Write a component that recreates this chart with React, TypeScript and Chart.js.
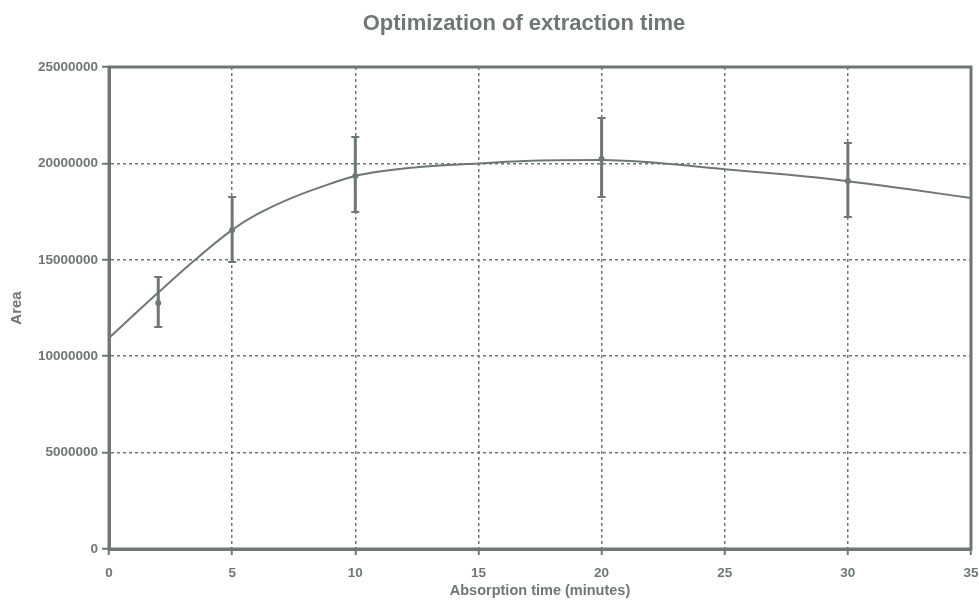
import React, { useEffect, useRef } from "react";
import { Chart, registerables } from "chart.js";

Chart.register(...registerables);

const chartTitle = "Optimization of extraction time";
const xTitle = "Absorption time (minutes)";
const yTitle = "Area";

// measured points (minutes)
const times = [2, 5, 10, 20, 30];
const means = [12760000, 16550000, 19350000, 20230000, 19090000];
const upper = [14110000, 18260000, 21370000, 22350000, 21060000];
const lower = [11510000, 14890000, 17480000, 18260000, 17220000];

// fitted trend curve
const curveX = [0, 2, 3.5, 5, 6, 7.5, 9, 10, 12.5, 15, 17.5, 20, 22.5, 25, 27.5, 30, 32.5, 35];
const curveY = [
  10950000, 13300000, 15000000, 16550000, 17350000, 18250000, 18950000, 19350000,
  19800000, 20000000, 20150000, 20170000, 20000000, 19700000, 19420000, 19080000,
  18660000, 18200000,
];

const xTicks = [0, 5, 10, 15, 20, 25, 30, 35];
const yTicks = [0, 5000000, 10000000, 15000000, 20000000, 25000000];

const GRAY = "#6f7776";
const FONT = "'Liberation Sans', Arial, sans-serif";

export default function App() {
  const ref = useRef<HTMLCanvasElement | null>(null);

  useEffect(() => {
    if (!ref.current) return;

    const errorBars = {
      id: "errorBars",
      afterDatasetsDraw(chart: any) {
        const { ctx, scales } = chart;
        const xs = scales.x;
        const ys = scales.y;
        ctx.save();
        ctx.setLineDash([]);
        ctx.strokeStyle = GRAY;
        ctx.lineCap = "butt";
        for (let i = 0; i < times.length; i++) {
          const px = xs.getPixelForValue(times[i]);
          const pt = ys.getPixelForValue(upper[i]);
          const pb = ys.getPixelForValue(lower[i]);
          ctx.lineWidth = 3;
          ctx.beginPath();
          ctx.moveTo(px, pt);
          ctx.lineTo(px, pb);
          ctx.stroke();
          ctx.lineWidth = 2;
          ctx.beginPath();
          ctx.moveTo(px - 4, pt);
          ctx.lineTo(px + 4, pt);
          ctx.moveTo(px - 4, pb);
          ctx.lineTo(px + 4, pb);
          ctx.stroke();
        }
        ctx.restore();
      },
    };

    const frame = {
      id: "frame",
      afterDraw(chart: any) {
        const { ctx, chartArea } = chart;
        ctx.save();
        ctx.setLineDash([]);
        ctx.strokeStyle = GRAY;
        ctx.lineWidth = 3;
        ctx.strokeRect(
          chartArea.left,
          chartArea.top,
          chartArea.right - chartArea.left,
          chartArea.bottom - chartArea.top
        );
        ctx.restore();
      },
    };

    const customTitle = {
      id: "customTitle",
      afterDraw(chart: any) {
        const { ctx } = chart;
        ctx.save();
        ctx.fillStyle = GRAY;
        ctx.font = `bold 22px ${FONT}`;
        ctx.textAlign = "center";
        ctx.textBaseline = "alphabetic";
        ctx.fillText(chartTitle, 524, 30);
        ctx.restore();
      },
    };

    const chart = new Chart(ref.current, {
      type: "scatter",
      data: {
        datasets: [
          {
            label: "fit",
            data: curveX.map((x, i) => ({ x, y: curveY[i] })),
            showLine: true,
            borderColor: GRAY,
            borderWidth: 2,
            pointRadius: 0,
            cubicInterpolationMode: "monotone",
            fill: false,
          } as any,
          {
            label: "mean",
            data: times.map((x, i) => ({ x, y: means[i] })),
            showLine: false,
            pointRadius: 3,
            pointBackgroundColor: GRAY,
            pointBorderColor: GRAY,
            pointBorderWidth: 0,
          },
        ],
      },
      options: {
        animation: false,
        responsive: true,
        maintainAspectRatio: false,
        layout: { padding: { top: 67, right: 8, left: 0, bottom: 0 } },
        plugins: {
          legend: { display: false },
          title: { display: false },
          tooltip: { enabled: false },
        },
        scales: {
          x: {
            type: "linear",
            min: 0,
            max: 35,
            afterBuildTicks: (s: any) => {
              s.ticks = xTicks.map((v) => ({ value: v }));
            },
            afterFit: (s: any) => {
              s.height = 55;
              s.paddingLeft = 0;
              s.paddingRight = 0;
            },
            ticks: {
              color: GRAY,
              font: { family: FONT, size: 13.5, weight: "bold" },
              padding: 10,
              maxRotation: 0,
              callback: (v: any) => String(v),
            },
            grid: {
              color: GRAY,
              lineWidth: 1.5,
              tickLength: 6,
              tickColor: GRAY,
              tickWidth: 2,
              tickBorderDash: [],
            },
            border: { display: true, color: GRAY, width: 3, dash: [3, 3] },
            title: {
              display: true,
              text: xTitle,
              color: GRAY,
              font: { family: FONT, size: 14.5, weight: "bold" },
              padding: { top: 0, bottom: 4 },
            },
          },
          y: {
            type: "linear",
            min: 0,
            max: 25000000,
            afterBuildTicks: (s: any) => {
              s.ticks = yTicks.map((v) => ({ value: v }));
            },
            afterFit: (s: any) => {
              s.width = 109;
              s.paddingTop = 0;
              s.paddingBottom = 0;
            },
            ticks: {
              color: GRAY,
              font: { family: FONT, size: 13.5, weight: "bold" },
              padding: 4,
              callback: (v: any) => String(v),
            },
            grid: {
              color: GRAY,
              lineWidth: 1.5,
              tickLength: 7,
              tickColor: GRAY,
              tickWidth: 2,
              tickBorderDash: [],
            },
            border: { display: true, color: GRAY, width: 3, dash: [3, 3] },
            title: {
              display: true,
              text: yTitle,
              color: GRAY,
              font: { family: FONT, size: 15, weight: "bold" },
              padding: { top: 8, bottom: 0 },
            },
          },
        },
      },
      plugins: [errorBars, frame, customTitle],
    });

    return () => chart.destroy();
  }, []);

  return (
    <div style={{ position: "fixed", left: 0, top: 0, width: 979, height: 604, background: "#fff" }}>
      <canvas ref={ref} />
    </div>
  );
}
